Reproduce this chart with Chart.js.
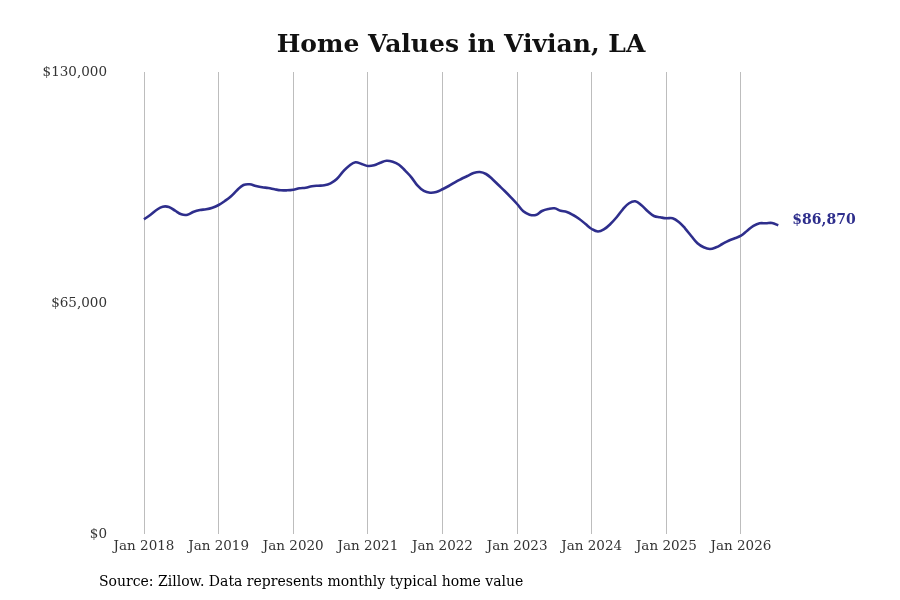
<!DOCTYPE html>
<html lang="en">
<head>
  <meta charset="UTF-8">
  <title>Home Values in Vivian, LA</title>
  <style>
    body {
      margin: 0;
      background-color: white;
    }
    .chart-box {
      position: relative;
      width: 900px;
      height: 600px;
    }
  </style>
  <script src="https://cdn.jsdelivr.net/npm/chart.js"></script>
</head>
<body>
  <div class="chart-box">
    <canvas id="homeChart"></canvas>
  </div>

  <script>
    const startYear = 2018;
    const yearTicks = [0, 12, 24, 36, 48, 60, 72, 84, 96];
    const valueTicks = [0, 65000, 130000];

    // Monthly typical home value, Jan 2018 onward
    const homeValues = [
      88550, 89760, 91170, 92100, 92020, 90970, 89960, 89850, 90690, 91170, 91370, 91820,
      92580, 93700, 95030, 96800, 98200, 98400, 97920, 97560, 97360, 97000, 96710, 96710,
      96880, 97280, 97450, 97840, 98010, 98120, 98680, 99890, 101950, 103640, 104590, 104110,
      103550, 103750, 104480, 105040, 104760, 103920, 102230, 100370, 98010, 96520, 96040, 96240,
      97000, 97920, 98970, 99890, 100740, 101580, 101860, 101300, 99890, 98200, 96520, 94740,
      92860, 90800, 89850, 89760, 90890, 91450, 91650, 90970, 90610, 89760, 88640, 87230,
      85820, 85120, 85770, 87230, 89120, 91370, 93060, 93620, 92490, 90800, 89480, 89120,
      88840, 88840, 87790, 86020, 83850, 81800, 80680, 80200, 80680, 81600, 82530, 83210,
      83940, 85350, 86670, 87430, 87430, 87510, 86870
    ];

    const lineColor = '#2e2e8c';
    const serif = "'DejaVu Serif', serif";

    const points = homeValues.map((v, i) => ({ x: i, y: v }));

    const money = (v) => '$' + v.toLocaleString('en-US');

    // Title, source note and end-of-line value label
    const textPlugin = {
      id: 'textPlugin',
      afterDraw(chart) {
        const ctx = chart.ctx;
        ctx.save();
        ctx.fillStyle = '#111';
        ctx.font = "bold 25px " + serif;
        ctx.textAlign = 'center';
        ctx.textBaseline = 'middle';
        ctx.fillText('Home Values in Vivian, LA', 461, 45);

        ctx.font = "14px " + serif;
        ctx.textAlign = 'left';
        ctx.fillStyle = '#000';
        ctx.fillText('Source: Zillow. Data represents monthly typical home value', 99, 582);

        const meta = chart.getDatasetMeta(0);
        const last = meta.data[meta.data.length - 1];
        ctx.font = "bold 14px " + serif;
        ctx.fillStyle = lineColor;
        ctx.fillText(money(homeValues[homeValues.length - 1]), last.x + 14, last.y - 5);
        ctx.restore();
      }
    };

    const ctx = document.getElementById('homeChart').getContext('2d');
    const homeChart = new Chart(ctx, {
      type: 'line',
      data: {
        datasets: [{
          data: points,
          borderColor: lineColor,
          borderWidth: 2.6,
          pointRadius: 0,
          tension: 0.4,
          fill: false
        }]
      },
      options: {
        responsive: true,
        maintainAspectRatio: false,
        animation: false,
        layout: {
          padding: { left: 0, right: 100, top: 72, bottom: 0 }
        },
        scales: {
          x: {
            type: 'linear',
            min: -3.86,
            max: 105.49,
            afterFit: (scale) => { scale.height = 66; },
            afterBuildTicks: (scale) => {
              scale.ticks = yearTicks.map(v => ({ value: v }));
            },
            grid: {
              color: '#bdbdbd',
              lineWidth: 1,
              drawTicks: false
            },
            border: { display: false },
            ticks: {
              padding: 4,
              color: '#333',
              font: { family: serif, size: 13.5 },
              maxRotation: 0,
              callback: (v) => 'Jan ' + (startYear + v / 12)
            }
          },
          y: {
            min: 0,
            max: 130000,
            afterFit: (scale) => { scale.width = 120; },
            afterBuildTicks: (scale) => {
              scale.ticks = valueTicks.map(v => ({ value: v }));
            },
            grid: { display: false, drawTicks: false },
            border: { display: false },
            ticks: {
              padding: 13,
              color: '#333',
              font: { family: serif, size: 13.5 },
              callback: (v) => money(v)
            }
          }
        },
        plugins: {
          legend: { display: false },
          tooltip: { enabled: false }
        }
      },
      plugins: [textPlugin]
    });
  </script>
</body>
</html>
